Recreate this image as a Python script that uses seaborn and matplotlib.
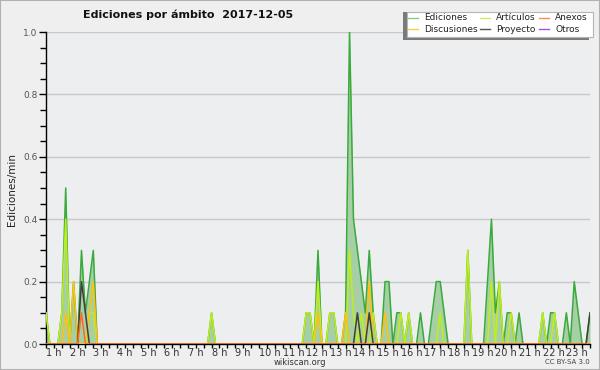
import numpy as np
import pandas as pd
import seaborn as sns
import matplotlib
matplotlib.use("Agg")
import matplotlib.pyplot as plt
from matplotlib.patches import Rectangle
from matplotlib.lines import Line2D

# edits/min in 10 minute bins, from 1 h to 24 h (6 values per hour)
ediciones = [
    0.1, 0, 0, 0, 0.1, 0.5,      # 1 h
    0, 0.2, 0, 0.3, 0.1, 0.2,    # 2 h
    0.3, 0, 0, 0, 0, 0,          # 3 h
    0, 0, 0, 0, 0, 0,            # 4 h
    0, 0, 0, 0, 0, 0,            # 5 h
    0, 0, 0, 0, 0, 0,            # 6 h
    0, 0, 0, 0, 0, 0,            # 7 h
    0.1, 0, 0, 0, 0, 0,          # 8 h
    0, 0, 0, 0, 0, 0,            # 9 h
    0, 0, 0, 0, 0, 0,            # 10 h
    0, 0, 0, 0, 0, 0,            # 11 h
    0.1, 0.1, 0, 0.3, 0, 0,      # 12 h
    0.1, 0.1, 0, 0, 0.1, 1.0,    # 13 h
    0.4, 0.3, 0.2, 0.1, 0.3, 0.1,  # 14 h
    0, 0, 0.2, 0.2, 0, 0.1,      # 15 h
    0.1, 0, 0.1, 0, 0, 0.1,      # 16 h
    0, 0, 0.1, 0.2, 0.2, 0.1,    # 17 h
    0, 0, 0, 0, 0, 0.3,          # 18 h
    0, 0, 0, 0, 0.2, 0.4,        # 19 h
    0.1, 0.2, 0, 0.1, 0.1, 0,    # 20 h
    0.1, 0, 0, 0, 0, 0,          # 21 h
    0.1, 0, 0.1, 0.1, 0, 0,      # 22 h
    0.1, 0, 0.2, 0.1, 0, 0,      # 23 h
    0.1,
]
articulos = [
    0.1, 0, 0, 0, 0.1, 0.4,
    0, 0, 0, 0, 0, 0.1,
    0.1, 0, 0, 0, 0, 0,
    0, 0, 0, 0, 0, 0,
    0, 0, 0, 0, 0, 0,
    0, 0, 0, 0, 0, 0,
    0, 0, 0, 0, 0, 0,
    0.1, 0, 0, 0, 0, 0,
    0, 0, 0, 0, 0, 0,
    0, 0, 0, 0, 0, 0,
    0, 0, 0, 0, 0, 0,
    0.1, 0.1, 0, 0.2, 0, 0,
    0.1, 0.1, 0, 0, 0, 0.3,
    0.1, 0, 0.1, 0, 0, 0.1,
    0, 0, 0, 0, 0, 0,
    0.1, 0, 0.1, 0, 0, 0,
    0, 0, 0, 0, 0.1, 0,
    0, 0, 0, 0, 0, 0.3,
    0, 0, 0, 0, 0, 0.2,
    0, 0.2, 0, 0, 0.1, 0,
    0, 0, 0, 0, 0, 0,
    0.1, 0, 0, 0.1, 0, 0,
    0, 0, 0, 0, 0, 0,
    0,
]
discusiones = [
    0, 0, 0, 0, 0, 0.1,
    0, 0.2, 0, 0, 0, 0.1,
    0.2, 0, 0, 0, 0, 0,
] + [0] * 48 + [
    0, 0, 0, 0.1, 0, 0,          # 12 h
    0, 0, 0, 0, 0.1, 0,          # 13 h
    0, 0, 0, 0, 0.2, 0,          # 14 h
    0, 0, 0.1, 0, 0, 0,          # 15 h
] + [0] * 48 + [0]
proyecto = [0] * 6 + [0, 0, 0, 0.2, 0.1, 0] + [0] * 66 + [0, 0.1, 0, 0, 0.1, 0] + [0] * 54 + [0.1]
anexos = [0] * 6 + [0, 0, 0, 0.1, 0, 0] + [0] * 127
otros = [0] * 139

ambitos = ["Ediciones", "Artículos", "Discusiones", "Proyecto", "Anexos", "Otros"]
valores = [ediciones, articulos, discusiones, proyecto, anexos, otros]
line_colors = {"Ediciones": "#3aaa3a", "Artículos": "#c0ee1a", "Discusiones": "#ffc010",
               "Proyecto": "#404040", "Anexos": "#ff6a2a", "Otros": "#8a44ee"}
legend_colors = {"Ediciones": "#88cc88", "Artículos": "#ccee66", "Discusiones": "#ffcc44",
                 "Proyecto": "#555555", "Anexos": "#ff8855", "Otros": "#9955ee"}

hours = 1 + np.arange(len(ediciones)) / 6
df = pd.DataFrame({
    "hora": np.tile(hours, len(ambitos)),
    "valor": np.concatenate([np.array(v, dtype=float) for v in valores]),
    "ambito": np.repeat(ambitos, len(hours)),
})

W, H = 600, 370
fig = plt.figure(figsize=(6, 3.7), dpi=100, facecolor="#efefef")
ax = fig.add_axes([46 / W, 1 - 344 / H, 544 / W, 312 / H])
ax.set_facecolor("#eceef0")

ax.fill_between(hours, ediciones, color="#a6cfa6", lw=0, zorder=2)
sns.lineplot(data=df[df["ambito"] != "Otros"], x="hora", y="valor", hue="ambito",
             hue_order=ambitos[:5], palette=line_colors, legend=False, ax=ax,
             linewidth=1.1, errorbar=None, zorder=3)

ax.set_xlim(1, 24)
ax.set_ylim(0, 1.0)
ax.set_xlabel("")
ax.set_ylabel("")
ax.set_xticks(range(1, 24))
ax.set_xticklabels([f"{h} h" for h in range(1, 24)], ha="left")
ax.set_xticks(np.arange(1, 24.01, 1 / 3), minor=True)
ax.set_yticks(np.arange(0, 1.01, 0.2))
ax.set_yticklabels([f"{v:.1f}" for v in np.arange(0, 1.01, 0.2)])
ax.set_yticks(np.arange(0, 1.01, 0.05), minor=True)
ax.tick_params(axis="x", which="both", direction="out", length=3, width=1,
               labelsize=7, pad=0, labelcolor="#333333")
ax.tick_params(axis="y", which="major", direction="out", length=5, width=1,
               labelsize=6.5, pad=1, labelcolor="#555555")
ax.tick_params(axis="y", which="minor", direction="out", length=4, width=1)
ax.yaxis.grid(True, color="#c8c8c8", lw=1)
ax.set_axisbelow(True)
for s in ["top", "right"]:
    ax.spines[s].set_visible(False)
for s in ["left", "bottom"]:
    ax.spines[s].set_color("black")
    ax.spines[s].set_linewidth(1)

fig.text(188 / W, 1 - 15 / H, "Ediciones por ámbito  2017-12-05", ha="center", va="center",
         fontsize=8, fontweight="bold", color="#111111")
fig.text(12 / W, 1 - 189 / H, "Ediciones/min", rotation=90, ha="center", va="center",
         fontsize=7.5, color="#222222")
fig.text(300 / W, 1 - 362.5 / H, "wikiscan.org", ha="center", va="center", fontsize=6,
         color="#333333")
fig.text(590 / W, 1 - 362.5 / H, "CC BY-SA 3.0", ha="right", va="center", fontsize=5,
         color="#444444")

# legend box with shadow
fig.patches.append(Rectangle((403 / W, 1 - 40 / H), 186 / W, 28 / H, transform=fig.transFigure,
                             facecolor="#7a7a7a", edgecolor="none", zorder=5))
fig.patches.append(Rectangle((406.5 / W, 1 - 36.5 / H), 186 / W, 25 / H, transform=fig.transFigure,
                             facecolor="white", edgecolor="#b5b5b5", lw=0.8, zorder=6))
leg_pos = {"Ediciones": (408, 18), "Discusiones": (408, 29), "Artículos": (480, 18),
           "Proyecto": (480, 29), "Anexos": (539, 18), "Otros": (539, 29)}
for name, (lx, ly) in leg_pos.items():
    fig.add_artist(Line2D([lx / W, (lx + 10) / W], [1 - ly / H, 1 - ly / H], transform=fig.transFigure,
                          color=legend_colors[name], lw=1, zorder=7))
    fig.text((lx + 16) / W, 1 - ly / H, name, ha="left", va="center", fontsize=6.5,
             color="#222222", zorder=7)

fig.patches.append(Rectangle((0, 0), 1, 1, transform=fig.transFigure, facecolor="none",
                             edgecolor="#b0b0b0", lw=1.5, zorder=10))

fig.savefig("out.png", dpi=100, facecolor=fig.get_facecolor())
